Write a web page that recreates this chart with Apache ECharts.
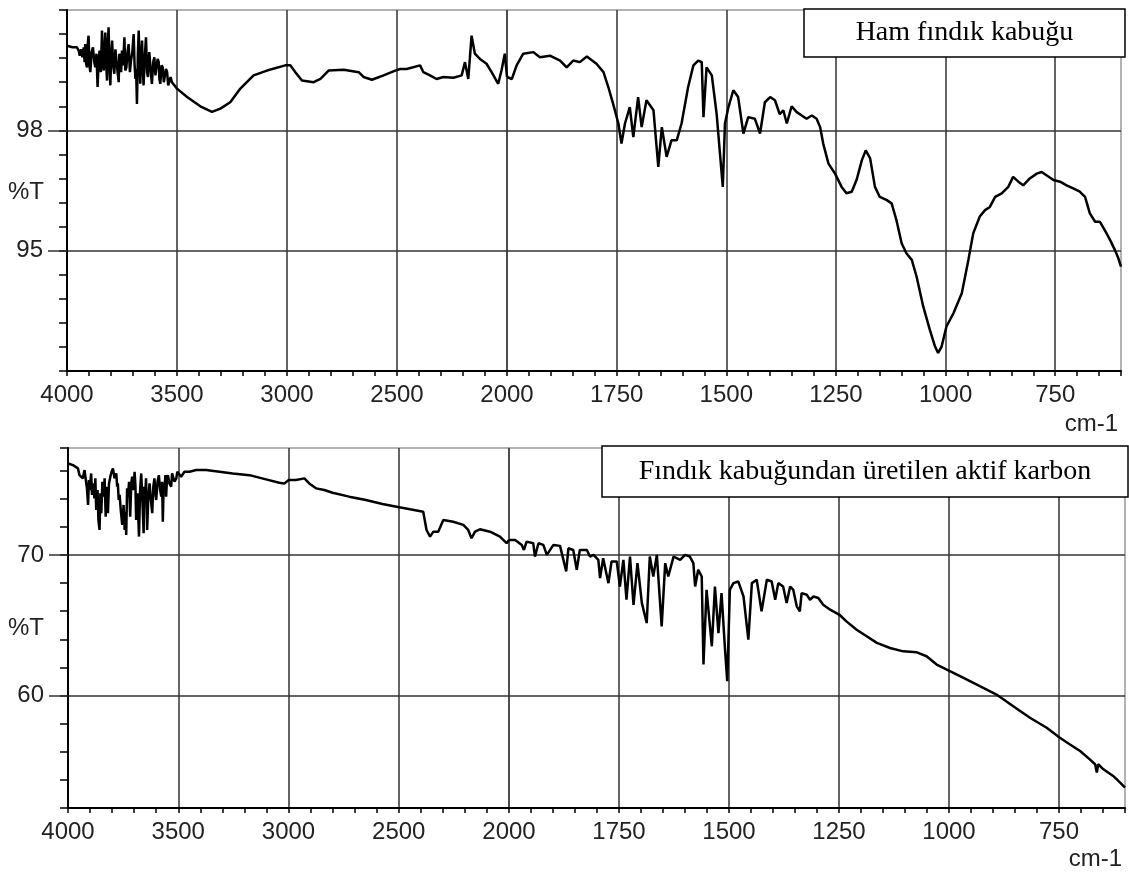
<!DOCTYPE html>
<html>
<head>
<meta charset="utf-8">
<title>FTIR</title>
<script src="https://cdn.jsdelivr.net/npm/echarts@6.0.0/dist/echarts.min.js"></script>
<style>
  html, body { margin: 0; padding: 0; background: #fff; }
  #ftirChart { width: 1129px; height: 873px; }
</style>
</head>
<body>
<div id="ftirChart"></div>
<script>
// ham fındık kabuğu (üst spektrum)
var rawWavenumber = [4000,3975,3955,
  3947,3942,3936,3930,3924,3920,3917,3913,3909,3905,3902,3898,3894,3888,3882,3876,
  3871,3866,3861,3856,3852,3846,3841,3837,3833,3830,3826,3822,3818,3815,3811,3807,
  3803,3799,3795,3790,3785,3780,3776,3770,3765,3762,3758,3754,3750,3745,3739,3735,
  3730,3725,3720,3714,3709,3703,3697,3693,3689,3686,3682,3678,3674,3670,3667,3663,
  3659,3655,3652,3646,3641,3636,3632,3626,3621,3617,3614,3608,3603,3598,3594,3588,
  3583,3580,3576,3570,3565,3560,3556,3550,3545,3540,3535,3529,3523,3500,
  3454,3394,3341,3303,3258,3212,3152,3091,3008,2985,
  2962,2932,2879,2848,2811,2742,2674,2652,2614,2561,
  2508,2485,2456,2395,2380,2350,2320,2289,2244,2206,
  2191,2176,2161,2146,2123,2093,2070,2040,2025,2010,
  2000,1989,1978,1963,1940,1925,1902,1879,1864,1849,
  1834,1818,1796,1780,1769,1758,1746,1739,1731,1720,
  1712,1701,1693,1682,1666,1655,1647,1636,1625,1613,
  1602,1587,1575,1564,1556,1552,1545,1533,1522,1508,
  1503,1495,1484,1473,1461,1450,1435,1423,1412,1400,
  1389,1378,1370,1362,1351,1340,1328,1317,1305,1294,
  1286,1279,1267,1252,1237,1226,1214,1203,1191,1182,
  1172,1161,1150,1134,1123,1112,1100,1089,1077,1066,
  1051,1036,1024,1017,1009,998,982,963,948,937,
  922,910,899,887,872,857,846,834,823,808,
  792,781,770,754,739,724,709,694,682,671,
  659,648,637,625,614,606,600];
var rawTransmittance = [100.11,100.07,100.07,
  99.99,99.86,100.02,99.82,100.07,99.70,100.15,99.66,99.57,100.20,100.36,99.62,99.45,99.95,100.07,99.70,
  99.57,99.91,99.08,99.74,99.99,99.45,100.49,99.78,99.49,99.95,100.44,99.66,99.24,100.11,100.57,99.62,
  99.12,99.86,100.24,99.62,99.41,100.02,99.99,99.45,99.20,99.91,99.74,99.45,99.99,99.62,100.32,99.49,
  99.57,99.95,100.15,99.45,99.74,99.95,100.40,99.66,99.28,99.53,98.66,99.86,100.49,99.62,99.16,99.86,
  100.24,99.49,99.12,99.86,100.32,99.45,99.33,99.95,99.99,99.33,99.16,99.70,99.82,99.37,99.33,99.78,
  99.70,99.28,99.16,99.62,99.57,99.20,99.24,99.53,99.45,99.12,99.16,99.33,99.20,99.04,
  98.83,98.60,98.46,98.54,98.70,99.04,99.37,99.49,99.62,99.62,
  99.45,99.24,99.20,99.28,99.49,99.51,99.45,99.33,99.26,99.37,
  99.49,99.53,99.53,99.62,99.45,99.37,99.28,99.33,99.31,99.37,
  99.70,99.28,100.36,99.91,99.78,99.66,99.45,99.16,99.49,99.91,
  99.33,99.28,99.62,99.91,99.95,99.82,99.86,99.74,99.57,99.74,
  99.70,99.84,99.66,99.45,99.08,98.66,98.17,97.67,98.17,98.58,
  97.83,98.83,98.08,98.75,98.50,97.09,98.08,97.34,97.75,97.75,
  98.17,99.08,99.62,99.74,99.70,98.33,99.57,99.37,98.41,96.59,
  98.17,98.58,99.00,98.83,97.92,98.33,98.29,97.92,98.70,98.83,
  98.75,98.40,98.50,98.17,98.60,98.46,98.37,98.29,98.37,98.29,
  98.08,97.67,97.17,96.92,96.59,96.43,96.47,96.76,97.25,97.50,
  97.30,96.59,96.34,96.26,96.18,95.76,95.18,94.93,94.77,94.35,
  93.61,93.03,92.61,92.45,92.61,93.11,93.44,93.94,94.77,95.43,
  95.85,96.01,96.09,96.34,96.43,96.59,96.84,96.72,96.63,96.80,
  96.92,96.96,96.88,96.76,96.72,96.63,96.55,96.47,96.34,95.93,
  95.72,95.72,95.51,95.27,95.02,94.81,94.60];

// aktif karbon (alt spektrum)
var carbonWavenumber = [4000,3977,
  3955,3948,3940,3933,3925,3918,3914,3909,3905,3902,3895,3891,3887,3880,3876,3872,
  3866,3862,3857,3853,3849,3844,3838,3834,3829,3824,3819,3814,3808,3802,3796,3789,
  3781,3777,3774,3770,3766,3760,3754,3748,3743,3739,3736,3732,3728,3723,3718,3713,
  3709,3703,3698,3694,3691,3685,3678,3673,3668,3662,3657,3654,3650,3646,3641,3636,
  3630,3624,3618,3613,3608,3604,3600,3594,3588,3582,3577,3573,3570,3566,3562,3558,
  3555,3551,3547,3540,3532,3528,3525,3517,3509,3504,3499,
  3487,3472,3449,3419,
  3374,3313,3253,3177,3102,3042,3019,2999,2966,2928,
  2906,2875,2838,2800,2725,2649,2574,2498,2449,2389,
  2374,2358,2343,2321,2298,2253,2207,2185,2170,2154,
  2132,2086,2041,2011,2000,1986,1971,1966,1960,1945,
  1941,1933,1922,1914,1899,1884,1870,1865,1854,1846,
  1839,1823,1816,1808,1797,1793,1786,1774,1767,1755,
  1748,1740,1733,1725,1717,1708,1698,1687,1680,1672,
  1664,1653,1645,1638,1626,1611,1600,1589,1581,1577,
  1570,1562,1558,1551,1539,1532,1524,1517,1509,1504,
  1498,1490,1479,1467,1456,1448,1437,1426,1414,1403,
  1395,1388,1377,1369,1361,1354,1346,1339,1335,1323,
  1316,1308,1297,1286,1270,1249,1233,1210,1187,1164,
  1134,1104,1073,1051,1028,998,967,930,892,854,
  816,778,748,725,702,680,668,664,661,649,
  627,611,600];
var carbonTransmittance = [76.50,76.38,
  76.15,75.67,75.79,75.44,76.03,75.20,74.73,73.55,75.32,74.61,75.79,74.26,75.08,74.02,75.44,73.19,
  74.61,72.48,71.77,74.38,72.96,75.20,74.14,75.44,72.72,74.85,72.96,75.08,75.56,75.91,76.15,75.44,
  75.79,74.85,75.08,73.90,74.26,73.07,72.13,73.55,71.77,73.07,71.42,74.73,74.14,75.20,72.72,75.08,
  75.56,74.61,75.91,74.85,72.48,74.38,71.30,74.61,75.79,73.62,71.54,74.85,74.14,75.44,71.77,74.02,
  75.08,73.90,72.96,74.85,75.44,74.38,73.90,75.20,75.67,74.61,74.14,75.20,72.36,75.08,74.85,75.67,
  74.14,75.44,75.67,75.08,74.85,75.79,75.91,75.20,75.44,75.91,75.79,
  75.56,75.91,75.91,76.03,
  76.03,75.91,75.79,75.67,75.37,75.13,75.08,75.32,75.32,75.44,
  75.08,74.73,74.61,74.42,74.14,73.90,73.62,73.38,73.24,73.07,
  71.77,71.30,71.65,71.65,72.48,72.36,72.13,71.77,71.18,71.65,
  71.82,71.65,71.30,70.83,71.06,71.06,70.71,70.35,70.94,70.83,
  69.88,70.83,70.71,70.00,70.71,70.64,68.82,70.47,70.35,68.94,
  70.35,70.35,69.88,70.00,69.65,68.35,69.76,67.99,69.53,69.53,
  67.75,69.65,66.81,69.88,66.45,69.41,66.57,65.15,69.88,68.46,
  70.00,64.92,69.41,68.46,69.88,69.65,70.00,69.88,69.41,67.75,
  68.94,68.46,62.20,67.52,63.50,67.75,64.44,67.28,63.26,61.02,
  67.52,67.99,68.11,67.04,63.97,67.99,68.23,65.98,68.23,68.11,
  66.81,67.99,67.75,66.57,67.75,67.52,66.34,65.98,67.28,67.16,
  66.81,67.04,66.93,66.45,66.10,65.74,65.27,64.68,64.21,63.74,
  63.38,63.14,63.07,62.79,62.20,61.73,61.25,60.66,60.07,59.24,
  58.42,57.71,57.00,56.52,56.05,55.46,55.11,54.52,55.11,54.75,
  54.28,53.81,53.45];

var lowRangeTicks = [1750, 1500, 1250, 1000, 750]; // 2000 alti, 250'lik
var rawMajorT = [95, 98];
var carbonMajorT = [60, 70];
var legendRaw = "Ham fındık kabuğu";
var legendCarbon = "Fındık kabuğundan üretilen aktif karbon";

var sansFont = "'Liberation Sans', Arial, sans-serif";
var serifFont = "'Liberation Serif', 'Times New Roman', serif";
var labelStyle = { fontFamily: sansFont, fontSize: 24, color: "#222" };
var gridLineStyle = { color: "#333", width: 1.5 };
var blackLine = { color: "#000", width: 2 };
var tickLine = { color: "#000", width: 1.5 };
var plainNumber = function (v) { return String(v); };

// wn araligina gore [x, y] cifti
function pairs(wn, t, lo, hi) {
  var out = [];
  var n = Math.min(wn.length, t.length);
  for (var i = 0; i < n; i++) {
    if (wn[i] >= lo && wn[i] <= hi) out.push([wn[i], t[i]]);
  }
  return out;
}

// 4000-2000 bolumu (sikistirilmis)
function xHigh(gridIndex) {
  return {
    type: "value", gridIndex: gridIndex, position: "bottom",
    min: 2000, max: 4000, inverse: true, interval: 500,
    axisLine: { show: true, onZero: false, lineStyle: blackLine },
    axisTick: { show: true, length: 5, lineStyle: tickLine },
    minorTick: { show: true, splitNumber: 5, length: 5, lineStyle: tickLine },
    splitLine: { show: true, lineStyle: gridLineStyle },
    axisLabel: Object.assign({ margin: 12, formatter: plainNumber }, labelStyle)
  };
}
// 2000-600 kucuk tikler
function xLowTicks(gridIndex) {
  return {
    type: "value", gridIndex: gridIndex, position: "bottom",
    min: 600, max: 2000, inverse: true, interval: 50,
    axisLine: { show: true, onZero: false, lineStyle: blackLine },
    axisTick: { show: true, length: 5, lineStyle: tickLine },
    axisLabel: { show: false },
    splitLine: { show: false }
  };
}
// 2000-600 etiket + izgara
function xLowGrid(gridIndex) {
  return {
    type: "value", gridIndex: gridIndex, position: "bottom",
    min: 600, max: 2000, inverse: true,
    axisLine: { show: false, onZero: false },
    axisTick: { show: false, customValues: lowRangeTicks },
    axisLabel: Object.assign({ margin: 12, customValues: lowRangeTicks, formatter: plainNumber }, labelStyle),
    splitLine: { show: true, lineStyle: gridLineStyle }
  };
}
function yMinor(gridIndex, min, max, step) {
  return {
    type: "value", gridIndex: gridIndex, min: min, max: max, interval: step, position: "left",
    axisLine: { show: true, onZero: false, lineStyle: blackLine },
    axisTick: { show: true, length: 8, lineStyle: tickLine },
    axisLabel: { show: false },
    splitLine: { show: false }
  };
}
function yMajor(gridIndex, min, max, majors, withLabels) {
  return {
    type: "value", gridIndex: gridIndex, min: min, max: max, position: "left",
    axisLine: { show: false, onZero: false },
    axisTick: { show: withLabels, length: 19, customValues: majors, lineStyle: gridLineStyle },
    axisLabel: Object.assign({ show: withLabels, margin: 24, customValues: majors, formatter: plainNumber }, labelStyle),
    splitLine: { show: true, lineStyle: gridLineStyle }
  };
}
function spectrum(xIdx, yIdx, data) {
  return {
    type: "line", xAxisIndex: xIdx, yAxisIndex: yIdx, data: data,
    showSymbol: false, symbol: "none", clip: true, silent: true,
    lineStyle: { color: "#000", width: 2.5 }
  };
}
function plainTitle(text, pos) {
  return Object.assign({ text: text, padding: 0,
    textStyle: Object.assign({ fontWeight: "normal" }, labelStyle) }, pos);
}

var myChart = echarts.init(document.getElementById("ftirChart"));
var frame = { show: true, borderColor: "#999", borderWidth: 1.5, containLabel: false, outerBoundsMode: "none" };
var option = {
  animation: false,
  backgroundColor: "#fff",
  grid: [
    Object.assign({ left: 67, top: 10, width: 440, height: 361 }, frame),
    Object.assign({ left: 507, top: 10, width: 614, height: 361 }, frame),
    Object.assign({ left: 68, top: 448, width: 441, height: 360 }, frame),
    Object.assign({ left: 509, top: 448, width: 616, height: 360 }, frame)
  ],
  xAxis: [xHigh(0), xLowTicks(1), xLowGrid(1), xHigh(2), xLowTicks(3), xLowGrid(3)],
  yAxis: [
    yMinor(0, 92, 101, 0.6), yMajor(0, 92, 101, rawMajorT, true), yMajor(1, 92, 101, rawMajorT, false),
    yMinor(2, 52, 77.6, 2), yMajor(2, 52, 77.6, carbonMajorT, true), yMajor(3, 52, 77.6, carbonMajorT, false)
  ],
  title: [
    plainTitle("%T", { left: 8, top: 180 }),
    plainTitle("%T", { left: 8, top: 616 }),
    plainTitle("cm-1", { right: 11, top: 412 }),
    plainTitle("cm-1", { right: 7, top: 847 })
  ],
  graphic: [
    { type: "rect", z: 100, shape: { x: 804, y: 9, width: 321, height: 48 },
      style: { fill: "#fff", stroke: "#000", lineWidth: 1.5 } },
    { type: "text", z: 101, x: 964.5, y: 33,
      style: { text: legendRaw, font: "28px " + serifFont, fill: "#000",
               align: "center", verticalAlign: "middle",
               textAlign: "center", textVerticalAlign: "middle" } },
    { type: "rect", z: 100, shape: { x: 602, y: 446, width: 526, height: 51 },
      style: { fill: "#fff", stroke: "#000", lineWidth: 1.5 } },
    { type: "text", z: 101, x: 865, y: 471.5,
      style: { text: legendCarbon, font: "28px " + serifFont, fill: "#000",
               align: "center", verticalAlign: "middle",
               textAlign: "center", textVerticalAlign: "middle" } }
  ],
  series: [
    spectrum(0, 0, pairs(rawWavenumber, rawTransmittance, 2000, 4000)),
    spectrum(1, 2, pairs(rawWavenumber, rawTransmittance, 600, 2000)),
    spectrum(3, 3, pairs(carbonWavenumber, carbonTransmittance, 2000, 4000)),
    spectrum(4, 5, pairs(carbonWavenumber, carbonTransmittance, 600, 2000))
  ]
};
myChart.setOption(option);
window.onresize = function () {
  myChart ? myChart.resize() : "";
};
</script>
</body>
</html>
